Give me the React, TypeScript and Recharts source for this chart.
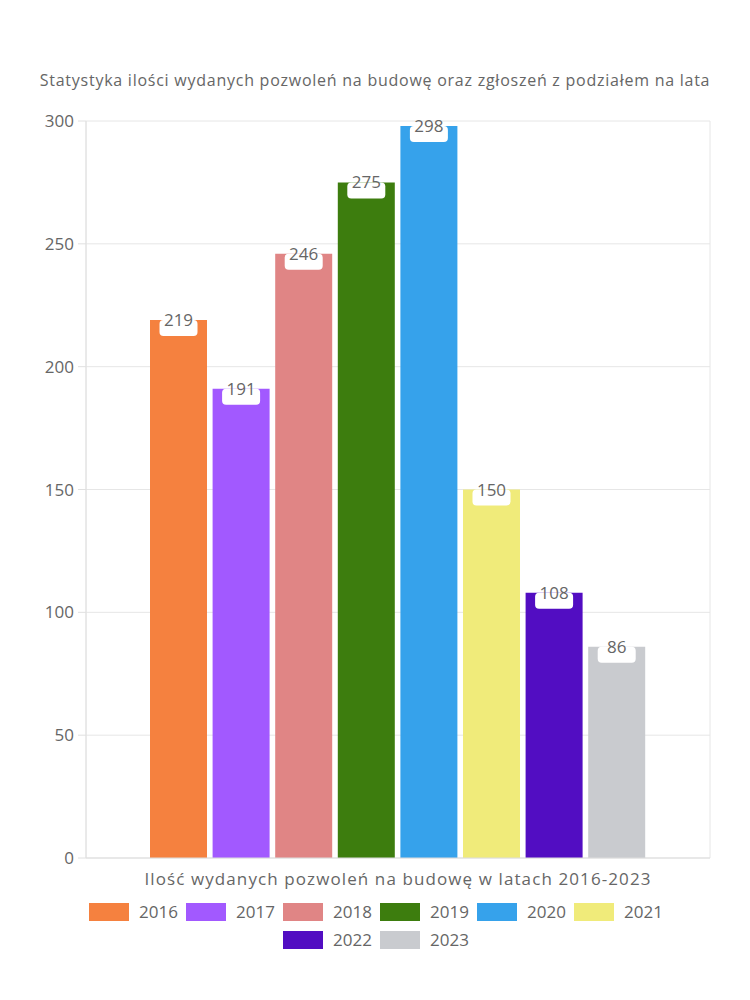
import { BarChart, Bar, XAxis, YAxis, CartesianGrid, Legend } from "recharts";

const categories = ["Ilość wydanych pozwoleń na budowę w latach 2016-2023"];
const years = ["2016", "2017", "2018", "2019", "2020", "2021", "2022", "2023"];
const values = [219, 191, 246, 275, 298, 150, 108, 86];
const colors = ["#F5813F", "#A259FF", "#E08585", "#3D7D0E", "#36A2EB", "#F0EB7A", "#520DC2", "#C9CBCF"];
const yTicks = [0, 50, 100, 150, 200, 250, 300];

const FONT = "'Open Sans', sans-serif";
const GREY = "#666";

const data = categories.map((name) => {
  const row: Record<string, string | number> = { name };
  years.forEach((y, i) => {
    row[y] = values[i];
  });
  return row;
});

// white tab sitting on top of each bar, value text half above it
function ValueTab(props: any) {
  const { x, y, width, value } = props;
  const cx = x + width / 2;
  return (
    <g>
      <rect x={cx - 19} y={y} width={38} height={16} rx={4} fill="#fff" />
      <text x={cx} y={y + 6} textAnchor="middle" fill={GREY} fontSize={17} fontFamily={FONT}>
        {value}
      </text>
    </g>
  );
}

function CategoryTick(props: any) {
  const { x, y, payload } = props;
  return (
    <text
      x={x}
      y={y + 19}
      textAnchor="middle"
      fill={GREY}
      fontSize={17}
      fontFamily={FONT}
      style={{ letterSpacing: 1.1 }}
    >
      {payload.value}
    </text>
  );
}

function LegendBoxes() {
  return (
    <div
      style={{
        display: "flex",
        flexWrap: "wrap",
        justifyContent: "center",
        width: 600,
        margin: "0 auto",
        paddingTop: 5,
        rowGap: 10,
        fontFamily: FONT,
        fontSize: 17,
        lineHeight: "18px",
        color: GREY,
      }}
    >
      {years.map((y, i) => (
        <div key={y} style={{ display: "flex", alignItems: "center", margin: "0 5px" }}>
          <span style={{ width: 40, height: 18, background: colors[i], marginRight: 10 }} />
          <span style={{ width: 37 }}>{y}</span>
        </div>
      ))}
    </div>
  );
}

export default function App() {
  return (
    <div style={{ position: "relative", width: 734, height: 984, background: "#fff" }}>
      <div
        style={{
          position: "absolute",
          top: 61,
          left: 0,
          width: 734,
          textAlign: "center",
          fontFamily: FONT,
          fontSize: 16,
          letterSpacing: 0.75,
          color: GREY,
        }}
      >
        Statystyka ilości wydanych pozwoleń na budowę oraz zgłoszeń z podziałem na lata
      </div>
      <BarChart
        width={734}
        height={984}
        data={data}
        margin={{ top: 113, right: 32, bottom: 32, left: 0 }}
        barSize={57}
        barGap={5.6}
      >
        <CartesianGrid
          stroke="#e6e6e6"
          verticalCoordinatesGenerator={({ offset }: any) => [offset.left, offset.left + offset.width]}
        />
        <XAxis dataKey="name" height={40} stroke="#ddd" tickLine={false} tick={<CategoryTick />} />
        <YAxis
          width={78}
          domain={[0, 300]}
          ticks={yTicks}
          stroke="#e0e0e0"
          tickSize={8}
          tickMargin={4}
          tick={{ fill: GREY, fontSize: 17, fontFamily: FONT }}
        />
        <Legend
          verticalAlign="bottom"
          height={62}
          wrapperStyle={{ left: 0, width: 734 }}
          content={() => <LegendBoxes />}
        />
        {years.map((y, i) => (
          <Bar key={y} dataKey={y} fill={colors[i]} isAnimationActive={false} label={<ValueTab />} />
        ))}
      </BarChart>
    </div>
  );
}
